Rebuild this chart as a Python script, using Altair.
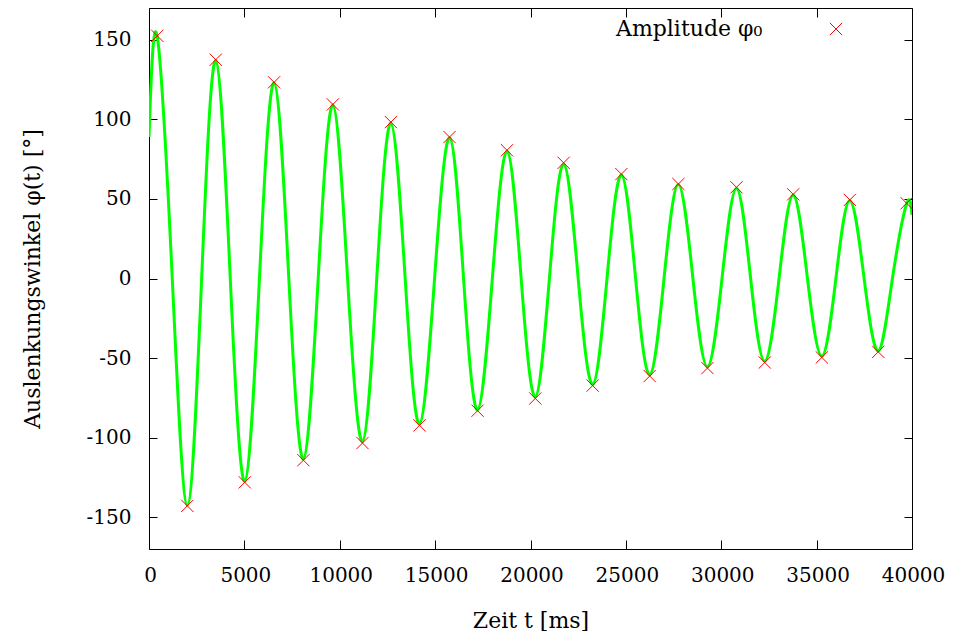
import altair as alt
import pandas as pd

# ---- data ----
# measured curve (time in ms, angle in degrees): extremes and zero crossings
line_t = [0, 435, 1220, 2010, 2760, 3500, 4260, 5020, 5790, 6560, 7330, 8095, 8870,
          9640, 10410, 11190, 11940, 12680, 13430, 14180, 14970, 15760, 16490, 17225,
          18000, 18770, 19510, 20250, 20990, 21740, 22500, 23260, 24010, 24765, 25510,
          26250, 27000, 27755, 28515, 29275, 30040, 30800, 31540, 32280, 33030, 33770,
          34520, 35275, 36010, 36740, 37490, 38230, 38975, 39720, 40000]
line_phi = [89, 152, 0, -142.5, 0, 137, 0, -127.5, 0, 123, 0, -113.5, 0,
            109, 0, -102.5, 0, 97.5, 0, -91.5, 0, 88.5, 0, -82.5,
            0, 80, 0, -74.5, 0, 72, 0, -66.5, 0, 65, 0,
            -60.5, 0, 59, 0, -55.5, 0, 56.5, 0, -52, 0, 52.5,
            0, -48.8, 0, 49, 0, -45.5, 0, 47, 40]

# amplitude markers (maxima and minima)
peak_t = [435, 3500, 6558, 9638, 12681, 15756, 18767, 21737, 24764, 27754, 30798,
          33772, 36742, 39717]
peak_phi = [152.5, 137.5, 123.3, 109.4, 98.3, 88.9, 80.6, 72.7, 65.6, 59.4, 57.3,
            52.9, 49.4, 47.3]
trough_t = [2009, 5021, 8095, 11191, 14182, 17225, 20252, 23258, 26249, 29276, 32282,
            35273, 38232]
trough_phi = [-142.9, -128.1, -114.2, -103.4, -92.3, -83.1, -75.4, -67.3, -61.3, -56.3,
              -52.8, -49.6, -46.1]

x_ticks = [0, 5000, 10000, 15000, 20000, 25000, 30000, 35000, 40000]
y_ticks = [-150, -100, -50, 0, 50, 100, 150]
legend_label = ["Amplitude φ₀"]

x_title = "Zeit t [ms]"
y_title = "Auslenkungswinkel φ(t) [°]"

# ---- tables ----
line_df = pd.DataFrame({"t": line_t, "phi": line_phi})
marker_df = pd.DataFrame({"t": peak_t + trough_t, "phi": peak_phi + trough_phi})
legend_df = pd.DataFrame({"label": legend_label})

W, H = 763, 541
FONT = "DejaVu Serif"
XSHAPE = "M-1,-1L1,1M-1,1L1,-1"

xscale = alt.Scale(domain=[0, 40000], nice=False, zero=False)
yscale = alt.Scale(domain=[-170, 170], nice=False, zero=False)

common = dict(grid=False, domain=False, tickColor="black", tickWidth=1)

line = alt.Chart(line_df).mark_line(
    color="#00ff00", strokeWidth=3, interpolate="natural", clip=True
).encode(
    x=alt.X("t:Q", scale=xscale, axis=alt.Axis(
        orient="bottom", values=x_ticks, labelExpr="datum.value", ticks=False, tickSize=0,
        labelPadding=32, labelBaseline="alphabetic", labelFlush=False, labelOverlap=False,
        labelOffset=1, labelFontSize=20, labelFont=FONT, labelColor="black",
        title=x_title, titleFont=FONT, titleFontSize=22, titleFontWeight="normal",
        titleColor="black", titleBaseline="alphabetic", titleY=78, **common)),
    y=alt.Y("phi:Q", scale=yscale, axis=alt.Axis(
        orient="left", values=y_ticks, labelExpr="datum.value", ticks=False, tickSize=0,
        labelPadding=18, labelFontSize=20, labelFont=FONT, labelColor="black",
        labelOverlap=False, labelFlush=False,
        title=y_title, titleFont=FONT, titleFontSize=22, titleFontWeight="normal",
        titleColor="black", titleBaseline="alphabetic", titleAngle=270, titleX=-110,
        **common)),
)

marks = alt.Chart(marker_df).mark_point(
    shape=XSHAPE, size=150, color="#ff0000", strokeWidth=1, filled=False, opacity=1
).encode(
    x=alt.X("t:Q", scale=xscale, axis=alt.Axis(
        orient="top", offset=-H, values=x_ticks, labels=False, tickSize=9, title=None,
        **common)),
    y=alt.Y("phi:Q", scale=yscale, axis=alt.Axis(
        orient="right", offset=-W, values=y_ticks, labels=False, tickSize=8, title=None,
        **common)),
)

ticks_far = alt.Chart(marker_df).mark_point(opacity=0).encode(
    x=alt.X("t:Q", scale=xscale, axis=alt.Axis(
        orient="bottom", offset=-H, values=x_ticks, labels=False, tickSize=9, title=None,
        **common)),
    y=alt.Y("phi:Q", scale=yscale, axis=alt.Axis(
        orient="left", offset=-W, values=y_ticks, labels=False, tickSize=8, title=None,
        **common)),
)

leg_text = alt.Chart(legend_df).mark_text(
    align="left", baseline="alphabetic", fontSize=22, font=FONT, color="black"
).encode(x=alt.value(467), y=alt.value(28), text="label:N")

leg_mark = alt.Chart(legend_df).mark_point(
    shape=XSHAPE, size=150, color="#ff0000", strokeWidth=1, filled=False, opacity=1
).encode(x=alt.value(687), y=alt.value(21))

chart = alt.layer(line, marks, ticks_far, leg_text, leg_mark).resolve_axis(
    x="independent", y="independent"
).properties(
    width=W, height=H,
    padding={"left": 141, "top": 0, "right": 34, "bottom": 82},
    autosize=alt.AutoSizeParams(type="none"),
    background="white",
).configure(
    font=FONT
).configure_axis(
    labelFont=FONT, titleFont=FONT, labelColor="black", titleColor="black"
).configure_text(font=FONT).configure_view(stroke="black", strokeWidth=1)

chart.save("out.html", embed_options={"renderer": "svg", "actions": False})
